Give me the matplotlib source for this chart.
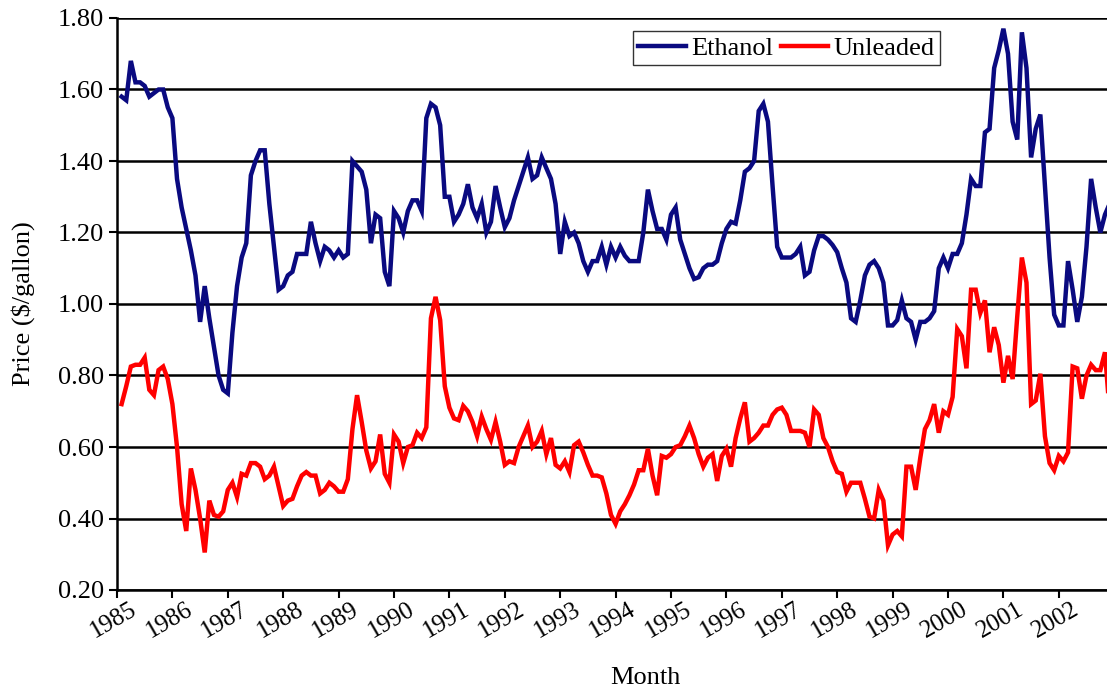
import matplotlib.pyplot as plt
import matplotlib.transforms as mtransforms
import numpy as np

# Monthly prices, Feb 1985 onwards ($/gallon)
ethanol = [
    1.58, 1.57, 1.68, 1.62, 1.62, 1.61, 1.58, 1.59, 1.60, 1.60, 1.55, 1.52,
    1.35, 1.27, 1.21, 1.15, 1.08, 0.95, 1.05, 0.96, 0.88, 0.80, 0.76, 0.75,
    0.92, 1.05, 1.13, 1.17, 1.36, 1.40, 1.43, 1.43, 1.28, 1.16, 1.04, 1.05,
    1.08, 1.09, 1.14, 1.14, 1.14, 1.23, 1.17, 1.12, 1.16, 1.15, 1.13, 1.15,
    1.13, 1.14, 1.40, 1.385, 1.37, 1.32, 1.17, 1.25, 1.24, 1.09, 1.05, 1.26,
    1.24, 1.20, 1.26, 1.29, 1.29, 1.26, 1.52, 1.56, 1.55, 1.50, 1.30, 1.30,
    1.23, 1.25, 1.28, 1.335, 1.27, 1.24, 1.28, 1.20, 1.23, 1.33, 1.27, 1.215,
    1.24, 1.29, 1.33, 1.37, 1.41, 1.35, 1.36, 1.41, 1.38, 1.35, 1.28, 1.14,
    1.23, 1.19, 1.20, 1.17, 1.12, 1.09, 1.12, 1.12, 1.16, 1.11, 1.16, 1.13,
    1.16, 1.135, 1.12, 1.12, 1.12, 1.20, 1.32, 1.26, 1.21, 1.21, 1.18, 1.25,
    1.27, 1.18, 1.14, 1.10, 1.07, 1.075, 1.10, 1.11, 1.11, 1.12, 1.17, 1.21,
    1.23, 1.225, 1.29, 1.37, 1.38, 1.40, 1.54, 1.56, 1.51, 1.33, 1.16, 1.13,
    1.13, 1.13, 1.14, 1.16, 1.08, 1.09, 1.15, 1.19, 1.19, 1.18, 1.165, 1.145,
    1.10, 1.06, 0.96, 0.95, 1.01, 1.08, 1.11, 1.12, 1.10, 1.06, 0.94, 0.94,
    0.955, 1.01, 0.96, 0.95, 0.90, 0.95, 0.95, 0.96, 0.98, 1.10, 1.13, 1.10,
    1.14, 1.14, 1.17, 1.25, 1.35, 1.33, 1.33, 1.48, 1.49, 1.66, 1.71, 1.77,
    1.70, 1.51, 1.46, 1.76, 1.66, 1.41, 1.49, 1.53, 1.33, 1.13, 0.97, 0.94,
    0.94, 1.12, 1.04, 0.95, 1.02, 1.16, 1.35, 1.27, 1.20, 1.25, 1.28,
]
unleaded = [
    0.72, 0.77, 0.825, 0.83, 0.83, 0.85, 0.76, 0.745, 0.815, 0.825, 0.79, 0.72,
    0.60, 0.44, 0.365, 0.54, 0.48, 0.40, 0.305, 0.45, 0.41, 0.405, 0.42, 0.48,
    0.50, 0.46, 0.525, 0.52, 0.555, 0.555, 0.545, 0.51, 0.52, 0.545, 0.49, 0.435,
    0.45, 0.455, 0.49, 0.52, 0.53, 0.52, 0.52, 0.47, 0.48, 0.50, 0.49, 0.475,
    0.475, 0.51, 0.65, 0.745, 0.67, 0.59, 0.54, 0.56, 0.635, 0.525, 0.50, 0.635,
    0.615, 0.555, 0.60, 0.605, 0.64, 0.625, 0.655, 0.96, 1.02, 0.955, 0.77, 0.71,
    0.68, 0.675, 0.715, 0.70, 0.67, 0.63, 0.685, 0.65, 0.62, 0.67, 0.615, 0.55,
    0.56, 0.555, 0.60, 0.63, 0.66, 0.60, 0.615, 0.645, 0.58, 0.625, 0.55, 0.54,
    0.56, 0.53, 0.605, 0.615, 0.585, 0.55, 0.52, 0.52, 0.515, 0.47, 0.41, 0.385,
    0.42, 0.44, 0.465, 0.495, 0.535, 0.535, 0.595, 0.52, 0.465, 0.575, 0.57, 0.58,
    0.60, 0.605, 0.63, 0.66, 0.625, 0.58, 0.545, 0.57, 0.58, 0.505, 0.575, 0.595,
    0.545, 0.625, 0.68, 0.725, 0.615, 0.625, 0.64, 0.66, 0.66, 0.69, 0.705, 0.71,
    0.69, 0.645, 0.645, 0.645, 0.64, 0.60, 0.705, 0.69, 0.625, 0.60, 0.56, 0.53,
    0.525, 0.475, 0.50, 0.50, 0.50, 0.455, 0.405, 0.40, 0.48, 0.45, 0.325, 0.355,
    0.365, 0.35, 0.545, 0.545, 0.48, 0.57, 0.65, 0.675, 0.72, 0.64, 0.70, 0.69,
    0.74, 0.93, 0.91, 0.82, 1.04, 1.04, 0.975, 1.01, 0.865, 0.935, 0.885, 0.78,
    0.855, 0.79, 0.965, 1.13, 1.06, 0.72, 0.73, 0.805, 0.63, 0.555, 0.535, 0.575,
    0.56, 0.585, 0.825, 0.82, 0.735, 0.80, 0.83, 0.815, 0.815, 0.865, 0.70,
]
years = list(range(1985, 2003))
y_ticks = [0.20, 0.40, 0.60, 0.80, 1.00, 1.20, 1.40, 1.60, 1.80]

# month index -> fractional year
t = 1985 + np.arange(1, len(ethanol) + 1) / 12

plt.rcParams['font.family'] = ['Liberation Serif', 'DejaVu Serif']

fig = plt.figure(figsize=(11.07, 6.91), dpi=100)
ax = fig.add_axes([117 / 1107, 101 / 691, 990 / 1107, 572 / 691])

ax.plot(t, ethanol, color='#0a0a80', lw=3.2, label='Ethanol', solid_joinstyle='miter')
ax.plot(t, unleaded, color='#ff0000', lw=3.2, label='Unleaded', solid_joinstyle='miter')

ax.set_xlim(1985, 1985 + 990 / 55.4)
ax.set_ylim(0.2, 1.8)
ax.set_yticks(y_ticks)
ax.set_yticklabels(['%.2f' % v for v in y_ticks], fontsize=19)
ax.set_xticks(years)
ax.set_xticklabels([])

# slanted year labels, their upper end a little right of each tick
shift = mtransforms.ScaledTranslation(0.13, -0.08, fig.dpi_scale_trans)
for yr in years:
    ax.text(yr, 0, str(yr), transform=ax.get_xaxis_transform() + shift,
            fontsize=18, rotation=30, rotation_mode='anchor',
            ha='right', va='top', clip_on=False)

ax.yaxis.grid(True, color='black', lw=1.8)
ax.set_axisbelow(True)

for side in ['top', 'right']:
    ax.spines[side].set_visible(False)
for side in ['left', 'bottom']:
    ax.spines[side].set_linewidth(1.8)
ax.tick_params(direction='out', length=6, width=1.5, colors='black')

ax.set_ylabel('Price ($/gallon)', fontsize=19, labelpad=16)
fig.text(645 / 1107, 2 / 691, 'Month', fontsize=19, ha='center', va='bottom')

leg = ax.legend(loc='upper left', bbox_to_anchor=(633 / 1107, 1 - 31 / 691),
                bbox_transform=fig.transFigure, ncol=2, fontsize=19,
                frameon=True, fancybox=False, edgecolor='black',
                handlelength=1.8, handletextpad=0.2, columnspacing=0.3,
                borderpad=0.2, borderaxespad=0)
leg.get_frame().set_linewidth(1.0)

plt.savefig('out.png', dpi=100)
